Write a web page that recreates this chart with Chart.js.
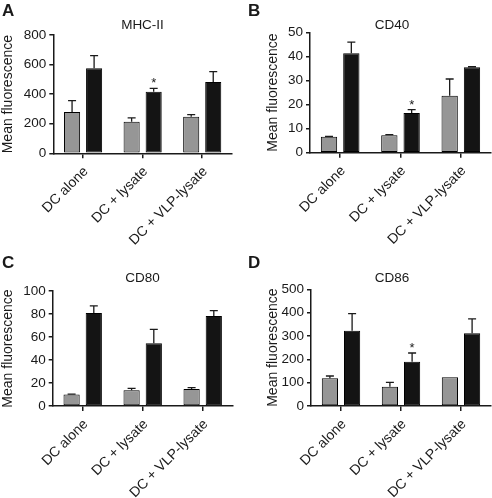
<!DOCTYPE html>
<html>
<head>
<meta charset="utf-8">
<script src="https://cdn.jsdelivr.net/npm/chart.js@4/dist/chart.umd.min.js"></script>
<style>
  html, body { margin: 0; padding: 0; background: #fff; }
  #wrap { position: relative; width: 492px; height: 498px; }
  canvas { position: absolute; }
</style>
</head>
<body>
<div id="wrap">
  <canvas id="panelA" width="246" height="250" style="left:0;top:0;width:246px;height:250px"></canvas>
  <canvas id="panelB" width="246" height="250" style="left:246px;top:0;width:246px;height:250px"></canvas>
  <canvas id="panelC" width="246" height="248" style="left:0;top:250px;width:246px;height:248px"></canvas>
  <canvas id="panelD" width="246" height="248" style="left:246px;top:250px;width:246px;height:248px"></canvas>
</div>
<script>
// categories shared by all panels
const categories = ['DC alone', 'DC + lysate', 'DC + VLP-lysate'];

// A - MHC-II
const mhcGray = [279, 214, 248];
const mhcGrayErr = [77, 25, 13];
const mhcBlack = [575, 417, 482];
const mhcBlackErr = [85, 22, 70];
const mhcSig = [false, true, false];
const mhcTicks = [0, 200, 400, 600, 800];

// B - CD40
const cd40Gray = [6.6, 7.2, 23.7];
const cd40GrayErr = [0.2, 0.3, 6.9];
const cd40Black = [41.3, 16.5, 35.5];
const cd40BlackErr = [4.6, 1.4, 0.2];
const cd40Sig = [false, true, false];
const cd40Ticks = [0, 10, 20, 30, 40, 50];

// C - CD80
const cd80Gray = [10.1, 13.6, 14.8];
const cd80GrayErr = [0.3, 1.8, 1.1];
const cd80Black = [80.9, 54.5, 78.3];
const cd80BlackErr = [6.1, 12.2, 4.6];
const cd80Sig = [false, false, false];
const cd80Ticks = [0, 20, 40, 60, 80, 100];

// D - CD86
const cd86Gray = [118.6, 82.9, 122.9];
const cd86GrayErr = [10, 18.5, 0];
const cd86Black = [322.9, 190, 311.4];
const cd86BlackErr = [72.8, 37, 61.5];
const cd86Sig = [false, true, false];
const cd86Ticks = [0, 100, 200, 300, 400, 500];

const FONT = "'Liberation Sans', Arial, Helvetica, sans-serif";
const INK = '#1a1a1a';

// error bars, significance stars, panel letter and title
const panelDecor = {
    id: 'panelDecor',
    afterDatasetsDraw(chart) {
        const ctx = chart.ctx;
        const y = chart.scales.y;
        const p = chart.options.plugins.panelDecor;
        ctx.save();
        ctx.strokeStyle = INK;
        ctx.lineWidth = 1.3;
        chart.data.datasets.forEach((ds, i) => {
            const meta = chart.getDatasetMeta(i);
            meta.data.forEach((bar, j) => {
                const err = ds.err[j];
                const top = y.getPixelForValue(ds.data[j] + err);
                if (err > 0) {
                    ctx.beginPath();
                    ctx.moveTo(bar.x, bar.y);
                    ctx.lineTo(bar.x, top);
                    ctx.moveTo(bar.x - 4, top);
                    ctx.lineTo(bar.x + 4, top);
                    ctx.stroke();
                }
                if (ds.sig && ds.sig[j]) {
                    ctx.fillStyle = INK;
                    ctx.font = '13px ' + FONT;
                    ctx.textAlign = 'center';
                    ctx.textBaseline = 'alphabetic';
                    ctx.fillText('*', bar.x, top - 1);
                }
            });
        });
        ctx.fillStyle = INK;
        ctx.font = 'bold 17px ' + FONT;
        ctx.textAlign = 'left';
        ctx.textBaseline = 'alphabetic';
        ctx.fillText(p.letter, 2, p.letterY);
        ctx.font = '13.5px ' + FONT;
        ctx.textAlign = 'center';
        ctx.textBaseline = 'middle';
        ctx.fillText(p.title, p.titleX, p.titleY);
        ctx.restore();
    }
};

function makePanel(id, cfg) {
    const canvas = document.getElementById(id);
    const w = canvas.width, h = canvas.height;
    new Chart(canvas, {
        type: 'bar',
        data: {
            labels: categories,
            datasets: [
                { data: cfg.gray, err: cfg.grayErr, backgroundColor: '#969696', borderColor: '#000',
                  borderWidth: 1, borderSkipped: false },
                { data: cfg.black, err: cfg.blackErr, sig: cfg.sig, backgroundColor: '#141414', borderColor: '#000',
                  borderWidth: 1, borderSkipped: false }
            ]
        },
        options: {
            responsive: false,
            animation: false,
            events: [],
            categoryPercentage: 0.74,
            barPercentage: 0.73,
            layout: { padding: { left: cfg.padLeft, top: cfg.top, right: w - cfg.right, bottom: 0 } },
            plugins: {
                legend: { display: false },
                tooltip: { enabled: false },
                panelDecor: { letter: cfg.letter, letterY: cfg.letterY, title: cfg.title, titleX: cfg.titleX, titleY: cfg.titleY }
            },
            scales: {
                x: {
                    afterFit: s => { s.height = h - cfg.bottom; },
                    border: { display: true, color: INK, width: 1.5 },
                    grid: { offset: false, drawOnChartArea: false, drawTicks: true, tickLength: 5, color: INK, lineWidth: 1.5 },
                    ticks: { color: INK, font: { family: FONT, size: 14 }, minRotation: 45, maxRotation: 45,
                             padding: 5, labelOffset: 3 }
                },
                y: {
                    min: 0,
                    max: cfg.ticks[cfg.ticks.length - 1],
                    afterFit: s => { s.width = cfg.left - cfg.padLeft; },
                    afterBuildTicks: s => { s.ticks = cfg.ticks.map(v => ({ value: v })); },
                    border: { display: true, color: INK, width: 1.5 },
                    grid: { drawOnChartArea: false, drawTicks: true, tickLength: 4, color: INK, lineWidth: 1.5 },
                    ticks: { color: INK, font: { family: FONT, size: 13.5 }, padding: 3 },
                    title: { display: true, text: 'Mean fluorescence', color: INK,
                             font: { family: FONT, size: 14 }, padding: { top: 0, bottom: 0 } }
                }
            }
        },
        plugins: [panelDecor]
    });
}

makePanel('panelA', { letter: 'A', letterY: 16, title: 'MHC-II', titleX: 142.5, titleY: 25,
    gray: mhcGray, grayErr: mhcGrayErr, black: mhcBlack, blackErr: mhcBlackErr, sig: mhcSig, ticks: mhcTicks,
    padLeft: 0, left: 53.3, right: 232, top: 35, bottom: 153.3 });

makePanel('panelB', { letter: 'B', letterY: 16, title: 'CD40', titleX: 146, titleY: 25,
    gray: cd40Gray, grayErr: cd40GrayErr, black: cd40Black, blackErr: cd40BlackErr, sig: cd40Sig, ticks: cd40Ticks,
    padLeft: 19, left: 64, right: 245, top: 32.3, bottom: 152.7 });

makePanel('panelC', { letter: 'C', letterY: 18, title: 'CD80', titleX: 142.5, titleY: 28,
    gray: cd80Gray, grayErr: cd80GrayErr, black: cd80Black, blackErr: cd80BlackErr, sig: cd80Sig, ticks: cd80Ticks,
    padLeft: 0, left: 52.7, right: 232.7, top: 41, bottom: 156 });

makePanel('panelD', { letter: 'D', letterY: 18, title: 'CD86', titleX: 146, titleY: 28,
    gray: cd86Gray, grayErr: cd86GrayErr, black: cd86Black, blackErr: cd86BlackErr, sig: cd86Sig, ticks: cd86Ticks,
    padLeft: 19, left: 65, right: 245, top: 39.3, bottom: 156 });
</script>
</body>
</html>
